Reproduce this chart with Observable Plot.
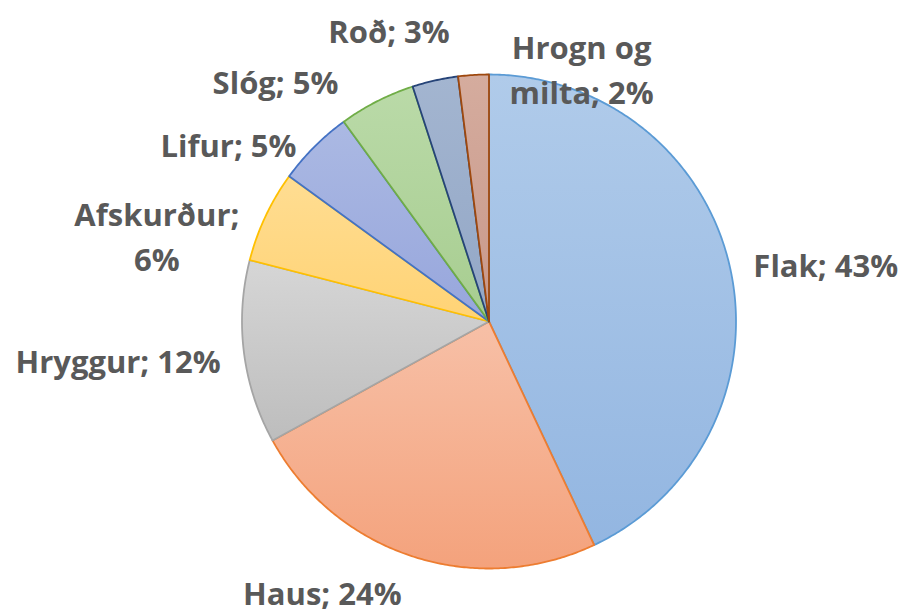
<!DOCTYPE html>
<html><head><meta charset="utf-8">
<script src="https://cdn.jsdelivr.net/npm/d3@7"></script>
<script src="https://cdn.jsdelivr.net/npm/@observablehq/plot@0.6"></script>
<style>body{margin:0;background:#fff}</style>
</head><body><div id="chart"></div>
<script>
const categories = ["Flak","Haus","Hryggur","Afskurður","Lifur","Slóg","Roð","Hrogn og milta"];
const shares = [43,24,12,6,5,5,3,2];
const labels = ["Flak; 43%","Haus; 24%","Hryggur; 12%","Afskurður;\n6%","Lifur; 5%","Slóg; 5%","Roð; 3%","Hrogn og\nmilta; 2%"];

// styling (layout only)
const fillsTop    = ["#b0cbea","#f7c0a7","#d6d6d6","#ffdd92","#abb9e3","#badaa8","#a3b5d0","#d5ac9e"];
const fillsBottom = ["#93b6e1","#f4a27c","#bdbdbd","#ffd375","#97a6dc","#a7cd90","#93a7c6","#c8988a"];
const strokes     = ["#5b9bd5","#ed7d31","#a5a5a5","#ffc000","#4472c4","#70ad47","#264478","#9e480e"];
const labelNudge  = [[82,-2],[-86,21],[-112,4],[-96,24],[-76,6],[-95,-9],[-43,-38],[109,6]];

const W = 903, H = 613, cx = 488.5, cy = 321, r = 247, lr = 261;
const total = d3.sum(shares);
let acc = 0;
const slices = categories.map((name, i) => {
  const a0 = acc / total * 2 * Math.PI; acc += shares[i];
  const a1 = acc / total * 2 * Math.PI;
  return {name, i, a0, a1, mid: (a0 + a1) / 2};
});
const polys = slices.map(s => {
  const n = Math.max(2, Math.ceil((s.a1 - s.a0) / (Math.PI / 360)));
  const arr = [{x: cx, y: cy}];
  for (let k = 0; k <= n; k++) {
    const a = s.a0 + (s.a1 - s.a0) * k / n;
    arr.push({x: cx + r * Math.sin(a), y: cy - r * Math.cos(a)});
  }
  arr.push({x: cx, y: cy});
  return arr;
});
const labelData = slices.map((s, i) => ({
  text: labels[i],
  x: cx + lr * Math.sin(s.mid) + labelNudge[i][0],
  y: cy - lr * Math.cos(s.mid) + labelNudge[i][1]
}));

const defs = () => {
  const d = d3.create("svg:defs");
  slices.forEach((s, i) => {
    const g = d.append("linearGradient").attr("id", "g" + i)
      .attr("x1", 0).attr("y1", 0).attr("x2", 0).attr("y2", 1);
    g.append("stop").attr("offset", 0).attr("stop-color", fillsTop[i]);
    g.append("stop").attr("offset", 1).attr("stop-color", fillsBottom[i]);
  });
  return d.node();
};

const chart = Plot.plot({
  width: W, height: H, margin: 0,
  x: {domain: [0, W], range: [0, W], axis: null},
  y: {domain: [0, H], range: [0, H], axis: null},
  style: {background: "#fff"},
  marks: [
    defs,
    ...polys.map((p, i) => Plot.line(p, {
      x: "x", y: "y", fill: `url(#g${i})`, stroke: strokes[i],
      strokeWidth: 1.8, strokeLinejoin: "round"
    })),
    Plot.text(labelData, {
      x: "x", y: "y", text: "text", fill: "#595959",
      fontSize: 31, fontWeight: "bold", fontFamily: "Open Sans",
      lineHeight: 1.45, textAnchor: "middle"
    })
  ]
});
document.getElementById("chart").appendChild(chart);
</script>
</body></html>
